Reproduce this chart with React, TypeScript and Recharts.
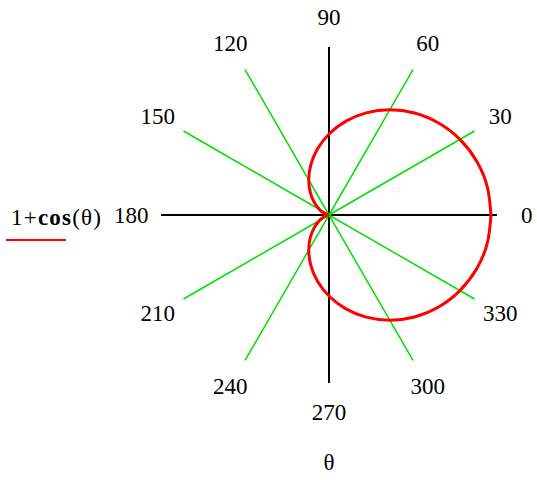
import { Legend, ReferenceDot, ReferenceLine, Scatter, ScatterChart, XAxis, YAxis } from "recharts";

// polar grid extent and label ring, in r units
const R_MAX = 2.074;
const LABEL_R = 2.44;

// spoke angles (degrees) and their labels
const spokeAngles = [30, 60, 120, 150, 210, 240, 300, 330];
const labelAngles = [0, 30, 60, 90, 120, 150, 180, 210, 240, 270, 300, 330];

// r = 1 + cos(θ), sampled every 10 degrees
const thetaDeg = [
  0, 10, 20, 30, 40, 50, 60, 70, 80, 90, 100, 110, 120, 130, 140, 150, 160, 170, 180,
  190, 200, 210, 220, 230, 240, 250, 260, 270, 280, 290, 300, 310, 320, 330, 340, 350, 360,
];
const rValues = [
  2.0, 1.985, 1.94, 1.866, 1.766, 1.643, 1.5, 1.342, 1.174, 1.0, 0.826, 0.658, 0.5, 0.357, 0.234, 0.134, 0.06, 0.015, 0.0,
  0.015, 0.06, 0.134, 0.234, 0.357, 0.5, 0.658, 0.826, 1.0, 1.174, 1.342, 1.5, 1.643, 1.766, 1.866, 1.94, 1.985, 2.0,
];

const rad = (d: number) => (d * Math.PI) / 180;

const cardioid = thetaDeg.map((t, i) => ({
  x: rValues[i] * Math.cos(rad(t)),
  y: rValues[i] * Math.sin(rad(t)),
}));

// center -> tip -> center -> tip ... as a single polyline
const spokes = spokeAngles.flatMap((a) => [
  { x: 0, y: 0 },
  { x: R_MAX * Math.cos(rad(a)), y: R_MAX * Math.sin(rad(a)) },
]);

const labels = labelAngles.map((a) => ({
  x: LABEL_R * Math.cos(rad(a)),
  y: LABEL_R * Math.sin(rad(a)),
  text: String(a),
}));

const FONT = "Times New Roman, Liberation Serif, serif";
const FONT_SIZE = 23;
const textStyle = { fontFamily: FONT, fontSize: FONT_SIZE };

const angleLabel = (text: string) => (props: any) => {
  const vb = props.viewBox || {};
  const cx = vb.cx ?? (vb.x ?? 0) + (vb.width ?? 0) / 2;
  const cy = vb.cy ?? (vb.y ?? 0) + (vb.height ?? 0) / 2;
  return (
    <text x={cx} y={cy} textAnchor="middle" dominantBaseline="central" fill="#000" style={textStyle}>
      {text}
    </text>
  );
};

const LegendContent = () => (
  <svg width={120} height={50} style={{ display: "block" }}>
    <text x={5} y={28} fill="#000" style={{ ...textStyle, letterSpacing: 1.2 }}>
      1+<tspan fontWeight="bold">cos</tspan>(θ)
    </text>
    <line x1={0} y1={43} x2={60} y2={43} stroke="#ff0000" strokeWidth={2} />
  </svg>
);

export default function App() {
  return (
    <div
      style={{ position: "absolute", left: 0, top: 0, width: 537, height: 480, background: "#fff", fontFamily: FONT }}
    >
      <ScatterChart width={537} height={480} margin={{ top: 47, right: 40, bottom: 67, left: 161 }}>
        <XAxis
          type="number"
          dataKey="x"
          domain={[-R_MAX, R_MAX]}
          allowDataOverflow
          axisLine={false}
          tick={false}
          tickLine={false}
          height={30}
          label={{ value: "θ", position: "bottom", offset: 41, fill: "#000", style: textStyle }}
        />
        <YAxis type="number" dataKey="y" domain={[-R_MAX, R_MAX]} allowDataOverflow hide />
        <Scatter
          data={spokes}
          line={{ stroke: "#00e000", strokeWidth: 1.5 }}
          shape={() => null}
          isAnimationActive={false}
          legendType="none"
        />
        <ReferenceLine x={0} stroke="#000" strokeWidth={2} />
        <ReferenceLine y={0} stroke="#000" strokeWidth={2} />
        <Scatter
          name="1+cos(θ)"
          data={cardioid}
          line={{ stroke: "#ff0000", strokeWidth: 3 }}
          lineJointType="natural"
          shape={() => null}
          isAnimationActive={false}
        />
        {labels.map((l) => (
          <ReferenceDot
            key={l.text}
            x={l.x}
            y={l.y}
            r={0}
            fill="none"
            stroke="none"
            ifOverflow="visible"
            label={angleLabel(l.text)}
          />
        ))}
        <Legend
          layout="vertical"
          align="center"
          verticalAlign="middle"
          content={LegendContent}
          wrapperStyle={{ left: 6, top: 197, width: 120 }}
        />
      </ScatterChart>
    </div>
  );
}
